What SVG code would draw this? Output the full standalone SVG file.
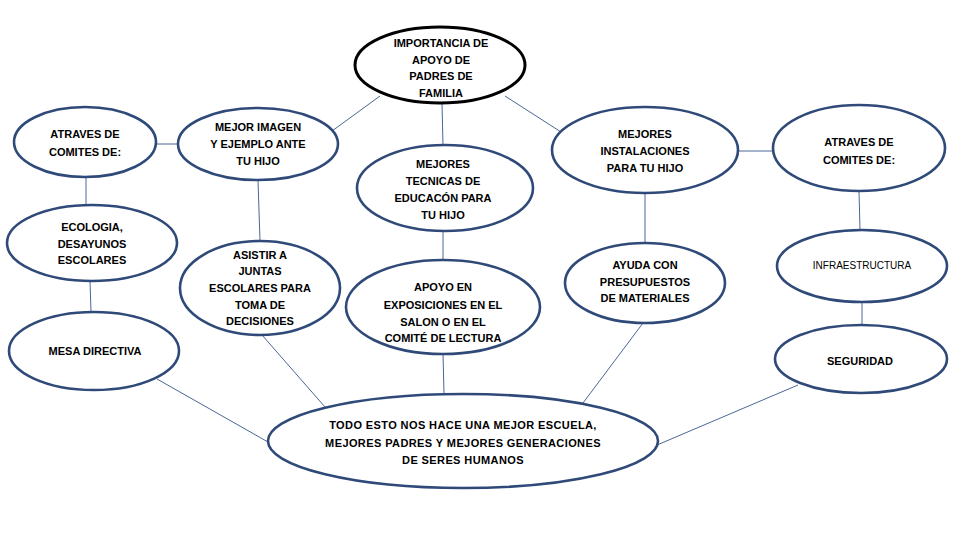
<svg xmlns="http://www.w3.org/2000/svg" width="960" height="540" viewBox="0 0 960 540">
<style>
.n{fill:#fff;stroke:#2f4a78;stroke-width:2.6}
.root{fill:#fff;stroke:#000;stroke-width:3}
.c{stroke:#4a6796;stroke-width:1;fill:none}
text{font-family:"Liberation Sans",Arial,sans-serif;font-size:11px;font-weight:bold;fill:#000;text-anchor:middle}
.thin{font-weight:normal;font-size:10px}
.wide{letter-spacing:0.4px}
</style>
<rect width="960" height="540" fill="#fff"/>
<g id="connectors">
<line class="c" x1="380" y1="96" x2="332" y2="131"/>
<line class="c" x1="442" y1="103" x2="443" y2="146"/>
<line class="c" x1="505" y1="96" x2="561" y2="132"/>
<line class="c" x1="156" y1="144" x2="178" y2="144"/>
<line class="c" x1="86" y1="177" x2="86" y2="206"/>
<line class="c" x1="90" y1="281" x2="91" y2="312"/>
<line class="c" x1="258" y1="180" x2="260" y2="241"/>
<line class="c" x1="443" y1="231" x2="443" y2="260"/>
<line class="c" x1="738" y1="151" x2="773" y2="151"/>
<line class="c" x1="645" y1="193" x2="645" y2="243"/>
<line class="c" x1="859" y1="191" x2="860" y2="230"/>
<line class="c" x1="862" y1="302" x2="862" y2="325"/>
<line class="c" x1="157" y1="379" x2="268" y2="442"/>
<line class="c" x1="262" y1="335" x2="325" y2="407"/>
<line class="c" x1="443" y1="353" x2="444" y2="394"/>
<line class="c" x1="643" y1="323" x2="580" y2="407"/>
<line class="c" x1="798" y1="385" x2="657" y2="445"/>
</g>
<g id="n-root">
<ellipse class="root" cx="440" cy="65" rx="85" ry="38"/>
<text x="441" y="47">IMPORTANCIA DE</text>
<text x="441" y="64">APOYO DE</text>
<text x="441" y="80">PADRES DE</text>
<text x="441" y="97">FAMILIA</text>
</g>
<g id="n-atraves-left">
<ellipse class="n" cx="85" cy="142" rx="71" ry="35"/>
<text x="85" y="138">ATRAVES DE</text>
<text x="85" y="156">COMITES DE:</text>
</g>
<g id="n-imagen">
<ellipse class="n" cx="258" cy="144" rx="80" ry="36"/>
<text x="258" y="131">MEJOR IMAGEN</text>
<text x="258" y="148">Y EJEMPLO ANTE</text>
<text x="258" y="165">TU HIJO</text>
</g>
<g id="n-ecologia">
<ellipse class="n" cx="92" cy="243" rx="85" ry="38"/>
<text x="92" y="231">ECOLOGIA,</text>
<text x="92" y="248">DESAYUNOS</text>
<text x="92" y="264">ESCOLARES</text>
</g>
<g id="n-mesa">
<ellipse class="n" cx="94" cy="351" rx="85" ry="39"/>
<text x="95" y="355">MESA DIRECTIVA</text>
</g>
<g id="n-asistir">
<ellipse class="n" cx="260" cy="288" rx="80" ry="47"/>
<text x="260" y="259">ASISTIR A</text>
<text x="260" y="275">JUNTAS</text>
<text x="260" y="292">ESCOLARES PARA</text>
<text x="260" y="309">TOMA DE</text>
<text x="260" y="325">DECISIONES</text>
</g>
<g id="n-tecnicas">
<ellipse class="n" cx="445" cy="188" rx="88" ry="43"/>
<text x="443" y="168">MEJORES</text>
<text x="443" y="185">TECNICAS DE</text>
<text x="443" y="202">EDUCACÓN PARA</text>
<text x="443" y="219">TU HIJO</text>
</g>
<g id="n-apoyo">
<ellipse class="n" cx="443" cy="307" rx="97" ry="47"/>
<text x="443" y="291">APOYO EN</text>
<text x="443" y="309">EXPOSICIONES EN EL</text>
<text x="443" y="326">SALON O EN EL</text>
<text x="443" y="342">COMITÉ DE LECTURA</text>
</g>
<g id="n-instalaciones">
<ellipse class="n" cx="645" cy="150" rx="93" ry="43"/>
<text x="645" y="138">MEJORES</text>
<text x="645" y="155">INSTALACIONES</text>
<text x="645" y="172">PARA TU HIJO</text>
</g>
<g id="n-atraves-right">
<ellipse class="n" cx="859" cy="148" rx="86" ry="43"/>
<text x="859" y="146">ATRAVES DE</text>
<text x="859" y="164">COMITES DE:</text>
</g>
<g id="n-ayuda">
<ellipse class="n" cx="645" cy="283" rx="80" ry="40"/>
<text x="645" y="269">AYUDA CON</text>
<text x="645" y="286">PRESUPUESTOS</text>
<text x="645" y="302">DE MATERIALES</text>
</g>
<g id="n-infra">
<ellipse class="n" cx="862" cy="266" rx="85" ry="36"/>
<text class="thin" x="862" y="269">INFRAESTRUCTURA</text>
</g>
<g id="n-seguridad">
<ellipse class="n" cx="861" cy="359" rx="86" ry="34"/>
<text x="860" y="365">SEGURIDAD</text>
</g>
<g id="n-todo">
<ellipse class="n" cx="463" cy="441" rx="195" ry="47"/>
<text class="wide" x="463" y="429">TODO ESTO NOS HACE UNA MEJOR ESCUELA,</text>
<text class="wide" x="463" y="447">MEJORES PADRES Y MEJORES GENERACIONES</text>
<text class="wide" x="463" y="464">DE SERES HUMANOS</text>
</g>
</svg>
